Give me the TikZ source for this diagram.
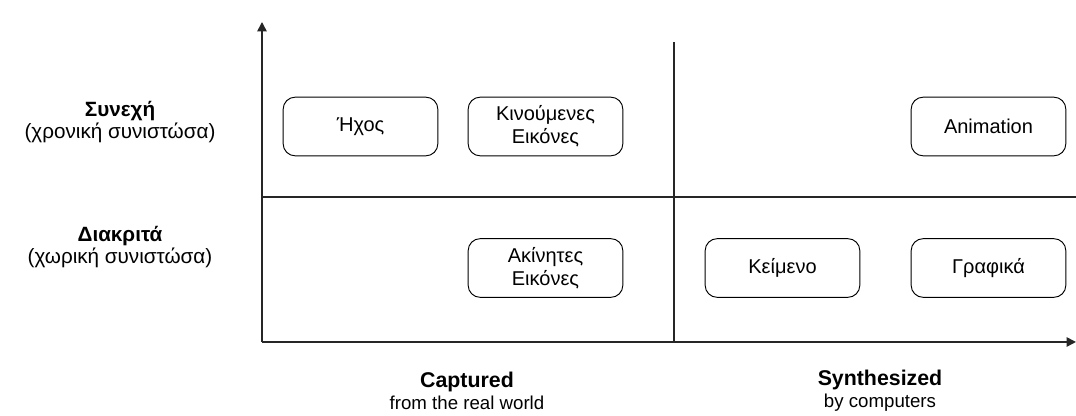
\documentclass[tikz,border=0pt]{standalone}
\usepackage{fontspec}
\setmainfont{Liberation Sans}
\usetikzlibrary{arrows.meta}

\tikzset{
  axis/.style={line width=1.1pt, black!85},
  medium/.style={draw, rounded corners=9pt, line width=0.7pt,
    minimum width=116pt, minimum height=44pt, align=center,
    font=\fontsize{15}{17}\selectfont},
  caption/.style={align=center, font=\fontsize{15.5}{16}\selectfont},
  bottomcap/.style={align=center, font=\fontsize{14}{16.5}\selectfont}
}

\begin{document}
\begin{tikzpicture}[x=0.75pt, y=0.75pt]
\useasboundingbox (0,0) rectangle (1076,416);

% axes and quadrant lines
\coordinate (o) at (262,74);
\coordinate (ytip) at (262,394);
\coordinate (xtip) at (1076,74);
\draw[axis,-{Triangle[length=7pt,width=7pt]}] (o) -- (ytip);
\draw[axis,-{Triangle[length=7pt,width=7pt]}] (o) -- (xtip);
\draw[axis] (262,219) -- (1076,219);
\draw[axis] (674,74) -- (674,374);

% media
\node[medium] (hxos) at (360.5,289.5) {Ήχος};
\node[medium] (video) at (545.5,289.5) {Κινούμενες\\Εικόνες};
\node[medium] (anim) at (988.5,289.5) {Animation};
\node[medium] (still) at (545.5,148) {Ακίνητες\\Εικόνες};
\node[medium] (text) at (782.5,148) {Κείμενο};
\node[medium] (graph) at (988.5,148) {Γραφικά};

% axis captions
\node[caption] (cont) at (120,294) {\textbf{Συνεχή}\\(χρονική συνιστώσα)};
\node[caption] (disc) at (120,169) {\textbf{Διακριτά}\\(χωρική συνιστώσα)};
\node[bottomcap] (capt) at (467,25) {{\fontsize{16}{16.5}\selectfont\textbf{Captured}}\\from the real world};
\node[bottomcap] (synt) at (880,25) {{\fontsize{16}{16.5}\selectfont\textbf{Synthesized}}\\by computers};

\end{tikzpicture}
\end{document}
